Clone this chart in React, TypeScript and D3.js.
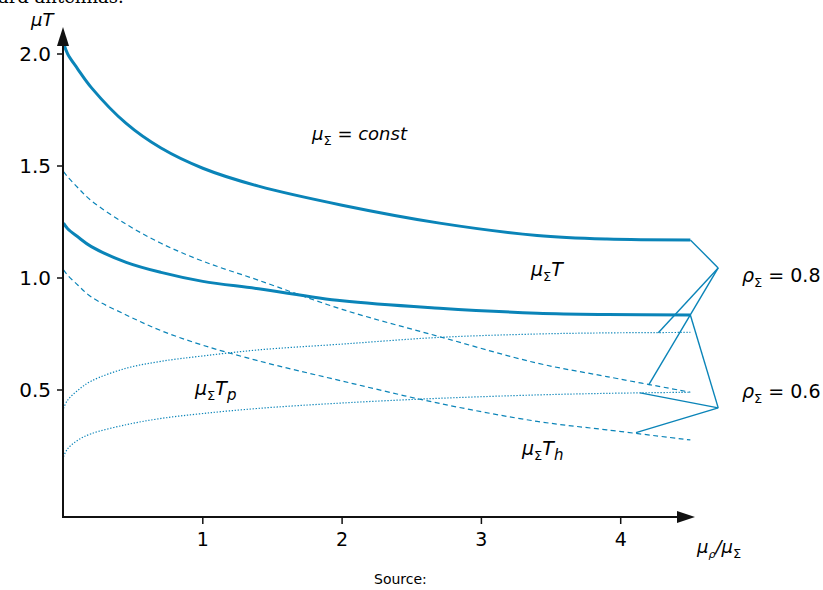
import React from "react";
import { scaleLinear, line, curveCatmullRom } from "d3";

// shared abscissa (mu_rho / mu_sigma)
const xValues = [0, 0.03, 0.1, 0.2, 0.45, 0.7, 1, 1.4, 2, 2.7, 3.4, 3.9, 4.5];

// rho = 0.8
const totalHigh = [2.05, 2.0, 1.935, 1.85, 1.69, 1.58, 1.49, 1.41, 1.325, 1.245, 1.19, 1.174, 1.17];
const hHigh = [1.475, 1.452, 1.405, 1.345, 1.24, 1.155, 1.075, 0.99, 0.86, 0.738, 0.62, 0.56, 0.49];
const pHigh = [0.418, 0.455, 0.497, 0.54, 0.597, 0.628, 0.652, 0.679, 0.705, 0.735, 0.75, 0.755, 0.757];

// rho = 0.6
const totalLow = [1.245, 1.22, 1.185, 1.14, 1.07, 1.025, 0.985, 0.952, 0.898, 0.865, 0.843, 0.837, 0.835];
const hLow = [1.036, 1.012, 0.97, 0.915, 0.835, 0.765, 0.7, 0.63, 0.54, 0.44, 0.36, 0.322, 0.277];
const pLow = [0.202, 0.238, 0.275, 0.305, 0.345, 0.373, 0.395, 0.418, 0.442, 0.463, 0.478, 0.485, 0.49];

const xTicks = [1, 2, 3, 4];
const yTicks = [0.5, 1.0, 1.5, 2.0];

// leader lines: label apex -> points on curves
const leaderHighApex = [4.7, 1.045];
const leaderHighTargets = [[4.5, 1.17], [4.27, 0.756], [4.2, 0.522]];
const leaderLowApex = [4.7, 0.42];
const leaderLowTargets = [[4.5, 0.835], [4.14, 0.487], [4.11, 0.31]];

const W = 823;
const H = 590;
const blue = "#0a84b8";
const font = "'DejaVu Sans', sans-serif";

const x = scaleLinear().domain([0, 4]).range([63.5, 620.7]);
const y = scaleLinear().domain([0, 2]).range([502, 54]);

const originX = 63;
const axisY = 517;

const path = (vals: number[]) =>
  line<number>()
    .x((d, i) => x(xValues[i]))
    .y((d) => y(d))
    .curve(curveCatmullRom.alpha(0.5))(vals) || "";

const Sub = ({ children }: { children: React.ReactNode }) => (
  <tspan fontSize={13} fontStyle="normal" dy={5}>{children}</tspan>
);

export default function App() {
  const series = [
    { vals: totalHigh, w: 3, dash: undefined },
    { vals: totalLow, w: 3, dash: undefined },
    { vals: hHigh, w: 1.2, dash: "5,3.5" },
    { vals: hLow, w: 1.2, dash: "5,3.5" },
    { vals: pHigh, w: 1.2, dash: "1.3,1.7" },
    { vals: pLow, w: 1.2, dash: "1.3,1.7" },
  ];

  const leaders = [
    { apex: leaderHighApex, targets: leaderHighTargets },
    { apex: leaderLowApex, targets: leaderLowTargets },
  ];

  return (
    <svg
      width={W}
      height={H}
      style={{ position: "absolute", left: 0, top: 0, background: "#fff" }}
      fontFamily={font}
    >
      <text x={-2} y={3} fontFamily="'DejaVu Serif', serif" fontSize={18}>ard antennas.</text>

      {/* curves */}
      {series.map((s, i) => (
        <path key={i} d={path(s.vals)} fill="none" stroke={blue} strokeWidth={s.w} strokeDasharray={s.dash} />
      ))}

      {/* leader lines */}
      {leaders.map((l, i) =>
        l.targets.map((t, j) => (
          <line key={`${i}-${j}`} x1={x(l.apex[0])} y1={y(l.apex[1])} x2={x(t[0])} y2={y(t[1])} stroke={blue} strokeWidth={1.4} />
        ))
      )}

      {/* axes */}
      <line x1={originX} y1={axisY} x2={originX} y2={40} stroke="#111" strokeWidth={2} />
      <path d={`M${originX},27 L${originX - 6},46 L${originX + 6},46 Z`} fill="#111" />
      <line x1={originX - 1} y1={axisY} x2={682} y2={axisY} stroke="#111" strokeWidth={2} />
      <path d={`M695,${axisY} L677,${axisY - 6} L677,${axisY + 6} Z`} fill="#111" />

      {yTicks.map((t) => (
        <g key={t}>
          <line x1={originX - 6} x2={originX} y1={y(t)} y2={y(t)} stroke="#111" strokeWidth={1.5} />
          <text x={originX - 12} y={y(t)} dy="0.35em" textAnchor="end" fontSize={20}>{t.toFixed(1)}</text>
        </g>
      ))}
      {xTicks.map((t) => (
        <g key={t}>
          <line x1={x(t)} x2={x(t)} y1={axisY} y2={axisY + 7} stroke="#111" strokeWidth={1.5} />
          <text x={x(t)} y={546} textAnchor="middle" fontSize={19}>{t}</text>
        </g>
      ))}

      {/* axis titles */}
      <text x={31} y={26} fontSize={18} fontStyle="italic">μT</text>
      <text x={697} y={553} fontSize={18} fontStyle="italic">
        μ<tspan fontSize={11} dy={5}>ρ</tspan><tspan dy={-5}>/μ</tspan><Sub>Σ</Sub>
      </text>

      {/* annotations */}
      <text x={312} y={140} fontSize={18} fontStyle="italic">
        μ<Sub>Σ</Sub><tspan dy={-5} fontStyle="normal"> = </tspan><tspan>const</tspan>
      </text>
      <text x={531} y={276} fontSize={19} fontStyle="italic">
        μ<Sub>Σ</Sub><tspan dy={-5}>T</tspan>
      </text>
      <text x={195} y={395} fontSize={19} fontStyle="italic">
        μ<Sub>Σ</Sub><tspan dy={-5}>T</tspan><tspan fontSize={15} dy={5}>p</tspan>
      </text>
      <text x={522} y={455} fontSize={19} fontStyle="italic">
        μ<Sub>Σ</Sub><tspan dy={-5}>T</tspan><tspan fontSize={15} dy={5}>h</tspan>
      </text>
      <text x={742} y={282} fontSize={19}>
        <tspan fontStyle="italic">ρ</tspan><Sub>Σ</Sub><tspan dy={-5}> = 0.8</tspan>
      </text>
      <text x={742} y={398} fontSize={19}>
        <tspan fontStyle="italic">ρ</tspan><Sub>Σ</Sub><tspan dy={-5}> = 0.6</tspan>
      </text>

      <text x={374} y={584} fontSize={14}>Source:</text>
    </svg>
  );
}
